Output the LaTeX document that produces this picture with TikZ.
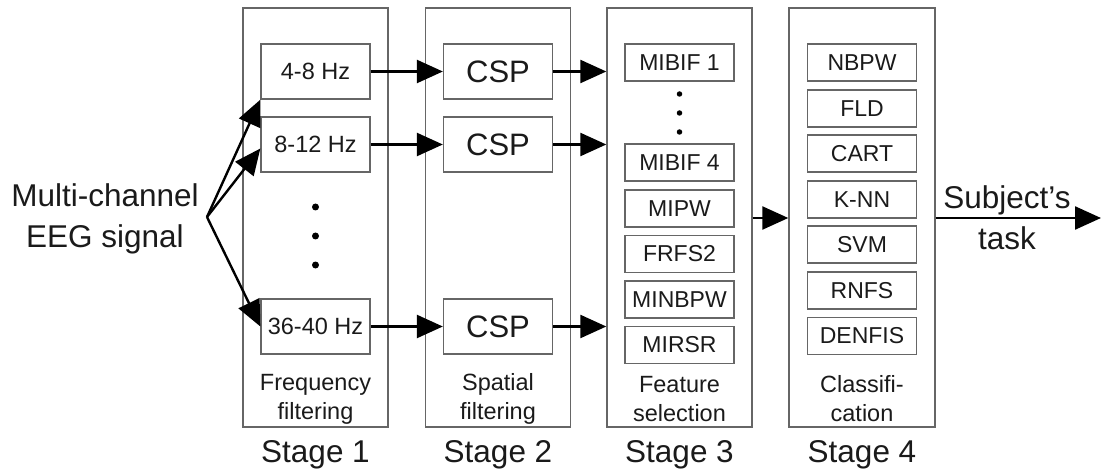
\documentclass[tikz,border=0pt]{standalone}
\usepackage{fontspec}
\setmainfont{Liberation Sans}
\usetikzlibrary{arrows.meta}
\definecolor{frame}{HTML}{666666}
\definecolor{ink}{HTML}{1A1A1A}
\tikzset{
  stagebox/.style={draw=frame, line width=1.4pt, minimum width=145pt, minimum height=419pt, inner sep=0pt},
  bandbox/.style={draw=frame, line width=1.3pt, minimum width=109pt, minimum height=55pt, inner sep=0pt,
    text=ink, font=\fontsize{23.5}{28}\selectfont},
  cspbox/.style={bandbox, font=\fontsize{31}{36}\selectfont},
  algbox/.style={draw=frame, line width=1.3pt, minimum width=109pt, minimum height=37pt, inner sep=0pt,
    text=ink, font=\fontsize{23}{28}\selectfont},
  caption/.style={align=center, text=ink, font=\fontsize{23.5}{29}\selectfont},
  bigtext/.style={align=center, text=ink, font=\fontsize{31.5}{41}\selectfont},
  flow/.style={line width=2.4pt, -{Triangle[length=26pt,width=23pt]}},
  dot/.style={circle, fill=black, inner sep=0pt, minimum size=7pt},
  smalldot/.style={circle, fill=black, inner sep=0pt, minimum size=5.5pt}
}
\begin{document}
\begin{tikzpicture}[x=1pt,y=-1pt]
\useasboundingbox (0,0) rectangle (1103,473);

% stage frames
\node[stagebox] (s1) at (315.5,217.5) {};
\node[stagebox] (s2) at (498,217.5) {};
\node[stagebox] (s3) at (679.5,217.5) {};
\node[stagebox,minimum width=146pt] (s4) at (862,217.5) {};

% stage 1: frequency bands
\node[bandbox] (f1) at (315.5,71.5) {4-8 Hz};
\node[bandbox] (f2) at (315.5,144.5) {8-12 Hz};
\node[bandbox] (f3) at (315.5,326.5) {36-40 Hz};
\node[dot] (d1) at (315.5,207) {};
\node[dot] (d2) at (315.5,236) {};
\node[dot] (d3) at (315.5,265) {};
\node[caption] (c1) at (315.5,399) {Frequency\\filtering};

% stage 2: spatial filters
\node[cspbox] (p1) at (498,71.5) {CSP};
\node[cspbox] (p2) at (498,144.5) {CSP};
\node[cspbox] (p3) at (498,326.5) {CSP};
\node[caption] (c2) at (498,399) {Spatial\\filtering};

% stage 3: feature selection
\node[algbox] (m1) at (679.5,62.5) {MIBIF 1};
\node[smalldot] (e1) at (679.5,94) {};
\node[smalldot] (e2) at (679.5,113) {};
\node[smalldot] (e3) at (679.5,132) {};
\node[algbox] (m4) at (679.5,162.5) {MIBIF 4};
\node[algbox] (m5) at (679.5,208.5) {MIPW};
\node[algbox] (m6) at (679.5,254) {FRFS2};
\node[algbox] (m7) at (679.5,299.5) {MINBPW};
\node[algbox] (m8) at (679.5,345) {MIRSR};
\node[caption] (c3) at (679.5,399) {Feature\\selection};

% stage 4: classifiers
\node[algbox] (k1) at (862,62.5) {NBPW};
\node[algbox] (k2) at (862,108.5) {FLD};
\node[algbox] (k3) at (862,153.5) {CART};
\node[algbox] (k4) at (862,199.5) {K-NN};
\node[algbox] (k5) at (862,244.5) {SVM};
\node[algbox] (k6) at (862,290.5) {RNFS};
\node[algbox] (k7) at (862,336) {DENFIS};
\node[caption] (c4) at (862,399) {Classifi-\\cation};

% stage titles
\node[bigtext] (t1) at (315.5,455) {Stage 1};
\node[bigtext] (t2) at (498,455) {Stage 2};
\node[bigtext] (t3) at (679.5,455) {Stage 3};
\node[bigtext] (t4) at (862,455) {Stage 4};

% input and output labels
\node[bigtext] (in) at (105,219) {Multi-channel\\EEG signal};
\node[bigtext] (res) at (1007,218) {Subject’s\\task};

% connectors
\coordinate (src) at (207,217);
\coordinate (mid) at (0,218);
\coordinate (out) at (1101,218);

\draw[flow] (src) -- (f1.south west);
\draw[flow] (src) -- ([yshift=-4pt]f2.west);
\draw[flow] (src) -- (f3.west);

\draw[flow] (f1) -- (p1);
\draw[flow] (f2) -- (p2);
\draw[flow] (f3) -- (p3);

\draw[flow] (p1.east) -- (p1 -| s3.west);
\draw[flow] (p2.east) -- (p2 -| s3.west);
\draw[flow] (p3.east) -- (p3 -| s3.west);

\draw[flow] (mid -| s3.east) -- (mid -| s4.west);
\draw[flow] (mid -| s4.east) -- (out);
\end{tikzpicture}
\end{document}
